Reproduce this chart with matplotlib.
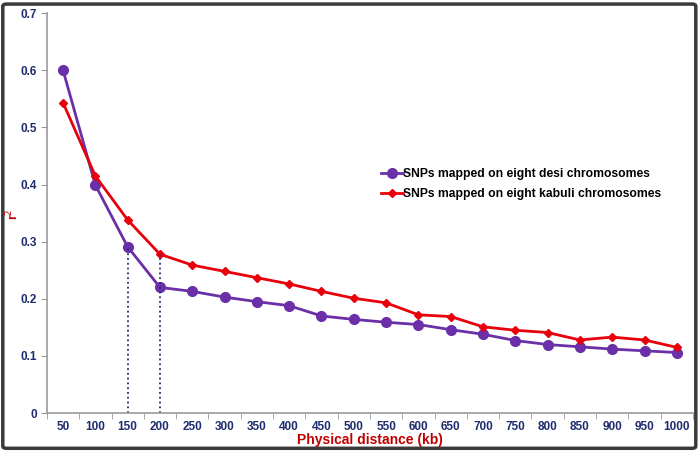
import numpy as np
import matplotlib.pyplot as plt
from matplotlib.patches import FancyBboxPatch

distance = [50, 100, 150, 200, 250, 300, 350, 400, 450, 500,
            550, 600, 650, 700, 750, 800, 850, 900, 950, 1000]
desi = [0.600, 0.399, 0.291, 0.220, 0.213, 0.203, 0.195, 0.188, 0.170, 0.164,
        0.159, 0.155, 0.146, 0.138, 0.127, 0.120, 0.116, 0.112, 0.109, 0.106]
kabuli = [0.543, 0.415, 0.338, 0.278, 0.259, 0.248, 0.237, 0.226, 0.213, 0.201,
          0.193, 0.172, 0.169, 0.151, 0.145, 0.141, 0.128, 0.133, 0.128, 0.115]
yticks = [0, 0.1, 0.2, 0.3, 0.4, 0.5, 0.6, 0.7]

navy = '#1F2D6E'
darkred = '#C00000'
purple = '#6B2FA8'
red = '#E8000B'

plt.rcParams['font.family'] = ['Liberation Sans', 'DejaVu Sans']

fig = plt.figure(figsize=(7.0, 4.51), dpi=100)
ax = fig.add_axes([0.067, 0.084, 0.923, 0.887])

x = np.arange(len(distance))
ax.plot(x, desi, color=purple, lw=2, marker='o', ms=7, label='SNPs mapped on eight desi chromosomes')
ax.plot(x, kabuli, color=red, lw=2, marker='D', ms=4.5, label='SNPs mapped on eight kabuli chromosomes')

# dotted drop lines at 150 and 200 kb
ax.vlines(x[2], 0, desi[2], colors=navy, linestyles=':', lw=1.3)
ax.vlines(x[3], 0, kabuli[3], colors=navy, linestyles=':', lw=1.3)

ax.set_xlim(-0.5, len(distance) - 0.5)
ax.set_ylim(0, 0.7)
ax.set_yticks(yticks)
ax.set_yticklabels(['0'] + ['%.1f' % v for v in yticks[1:]])
ax.set_xticks(x)
ax.set_xticklabels([str(d) for d in distance])
ax.set_xticks(np.arange(-0.5, len(distance)), minor=True)
ax.tick_params(axis='x', which='major', length=0, pad=5.5)
ax.tick_params(axis='x', which='minor', length=4, color='#999999')
ax.tick_params(axis='y', length=4, color='#999999', pad=3)
for lab in ax.get_xticklabels() + ax.get_yticklabels():
    lab.set_color(navy)
    lab.set_fontweight('bold')
    lab.set_fontsize(8.5)

for side in ['top', 'right']:
    ax.spines[side].set_visible(False)
for side in ['left', 'bottom']:
    ax.spines[side].set_color('#999999')
    ax.spines[side].set_linewidth(1.2)

fig.text(0.528, 0.024, 'Physical distance (kb)', color=darkred, fontweight='bold',
         fontsize=10, ha='center', va='center')
fig.text(0.018, 0.525, 'r$^2$', color=darkred, fontweight='bold', fontsize=9,
         rotation=90, ha='center', va='center')

ax.legend(loc='upper left', bbox_to_anchor=(0.5, 0.64), frameon=False,
          prop={'weight': 'bold', 'size': 8.7}, handlelength=1.8,
          handletextpad=0.0, labelspacing=0.65)

fig.patches.append(FancyBboxPatch((0.004, 0.006), 0.99, 0.985, transform=fig.transFigure,
                                  boxstyle='round,pad=0,rounding_size=0.005',
                                  fill=False, edgecolor='#3a3a3a', lw=2.5))

fig.savefig('out.png', dpi=100)
